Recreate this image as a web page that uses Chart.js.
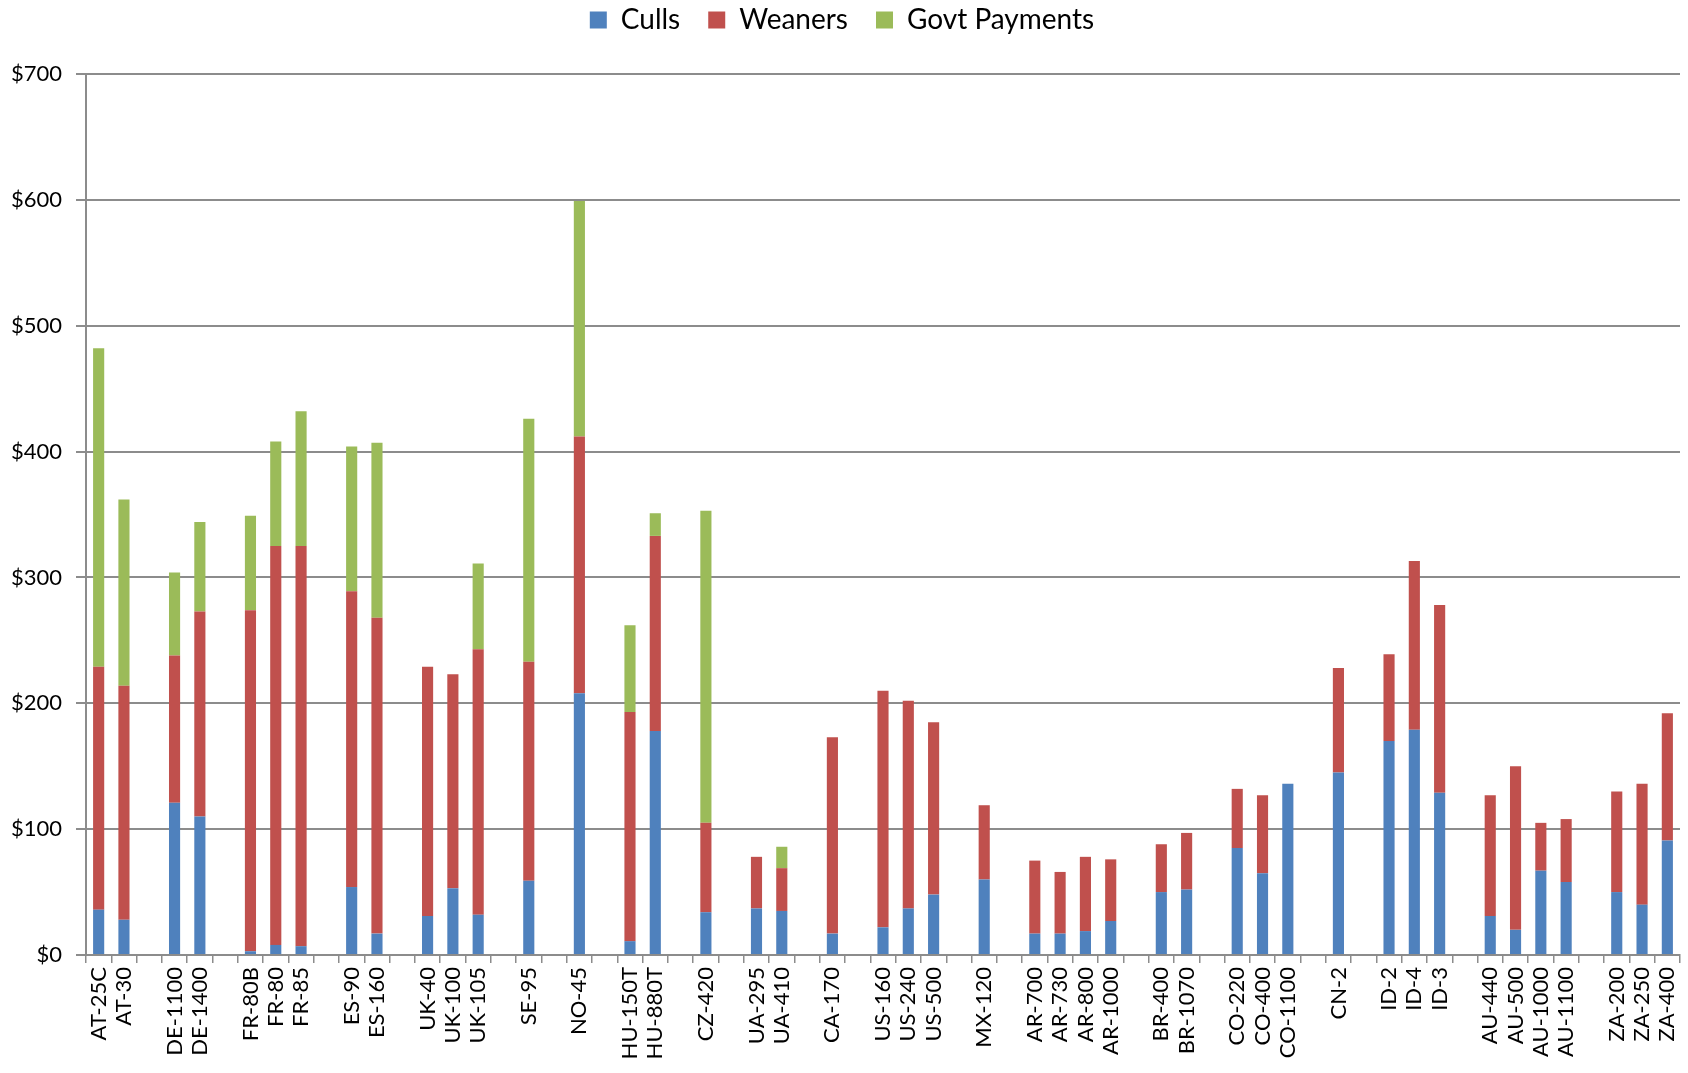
<!DOCTYPE html>
<html>
<head>
<meta charset="utf-8">
<script src="https://cdn.jsdelivr.net/npm/chart.js@4/dist/chart.umd.min.js"></script>
<style>
  html, body { margin: 0; padding: 0; background: #fff; }
  #wrap { width: 1688px; height: 1073px; position: relative; }
</style>
</head>
<body>
<div id="wrap"><canvas id="costChart"></canvas></div>
<script>
// farm codes, blank entries leave a gap between countries
const farms = ['AT-25C','AT-30','','DE-1100','DE-1400','','FR-80B','FR-80','FR-85','','ES-90','ES-160','',
    'UK-40','UK-100','UK-105','','SE-95','','NO-45','','HU-150T','HU-880T','','CZ-420','','UA-295','UA-410','',
    'CA-170','','US-160','US-240','US-500','','MX-120','','AR-700','AR-730','AR-800','AR-1000','',
    'BR-400','BR-1070','','CO-220','CO-400','CO-1100','','CN-2','','ID-2','ID-4','ID-3','',
    'AU-440','AU-500','AU-1000','AU-1100','','ZA-200','ZA-250','ZA-400'];

const culls = [36,28,null,121,110,null,3,8,7,null,54,17,null,31,53,32,null,59,null,208,null,11,178,null,34,null,37,35,null,
    17,null,22,37,48,null,60,null,17,17,19,27,null,50,52,null,85,65,136,null,145,null,170,179,129,null,
    31,20,67,58,null,50,40,91];
const weaners = [193,186,null,117,163,null,271,317,318,null,235,251,null,198,170,211,null,174,null,204,null,182,155,null,71,null,41,34,null,
    156,null,188,165,137,null,59,null,58,49,59,49,null,38,45,null,47,62,0,null,83,null,69,134,149,null,
    96,130,38,50,null,80,96,101];
const govt = [253,148,null,66,71,null,75,83,107,null,115,139,null,0,0,68,null,193,null,187,null,69,18,null,248,null,0,17,null,
    0,null,0,0,0,null,0,null,0,0,0,0,null,0,0,null,0,0,0,null,0,null,0,0,0,null,
    0,0,0,0,null,0,0,0];

const GRID = '#8c8c8c';

const whiteBg = {
    id: 'whiteBg',
    beforeDraw(c) {
        const ctx = c.ctx;
        ctx.save();
        ctx.fillStyle = '#fff';
        ctx.fillRect(0, 0, c.width, c.height);
        ctx.restore();
    }
};

// legend sits near the top edge, with a taller box so the plot starts lower
const legendSpace = {
    id: 'legendSpace',
    afterInit(c) {
        const lg = c.legend;
        const fit = lg.fit.bind(lg);
        lg.fit = function () { fit(); this.height = 96; };
    }
};

const ctx = document.getElementById('costChart').getContext('2d');
new Chart(ctx, {
    type: 'bar',
    data: {
        labels: farms,
        datasets: [
            { label: 'Culls', data: culls, backgroundColor: '#4f81bd' },
            { label: 'Weaners', data: weaners, backgroundColor: '#c0504d' },
            { label: 'Govt Payments', data: govt, backgroundColor: '#9bbb59' }
        ]
    },
    options: {
        responsive: true,
        maintainAspectRatio: false,
        animation: false,
        datasets: { bar: { categoryPercentage: 1.0, barPercentage: 0.44 } },
        layout: { padding: { left: 4, right: 8, top: -22, bottom: 0 } },
        plugins: {
            tooltip: { enabled: false },
            legend: {
                position: 'top',
                labels: {
                    font: { family: 'Lato', size: 28 },
                    color: '#000',
                    boxWidth: 17,
                    boxHeight: 17,
                    padding: 28
                }
            }
        },
        scales: {
            x: {
                stacked: true,
                grid: { offset: true, drawOnChartArea: false, drawTicks: true, tickLength: 8, color: GRID, lineWidth: 1.5 },
                border: { color: GRID, width: 2 },
                ticks: {
                    autoSkip: false,
                    maxRotation: 90,
                    minRotation: 90,
                    padding: 4,
                    color: '#000',
                    font: { family: 'Lato', size: 22 }
                },
                afterFit(scale) {
                    scale.height = 118;
                    scale.paddingLeft = 0;
                    scale.paddingRight = 0;
                }
            },
            y: {
                stacked: true,
                min: 0,
                max: 700,
                grid: { color: GRID, lineWidth: 2, tickLength: 10 },
                border: { color: GRID, width: 2 },
                ticks: {
                    stepSize: 100,
                    padding: 14,
                    color: '#000',
                    font: { family: 'Lato', size: 22 },
                    callback: v => '$' + v
                },
                afterFit(scale) { scale.width = 82; }
            }
        }
    },
    plugins: [whiteBg, legendSpace]
});
</script>
</body>
</html>
